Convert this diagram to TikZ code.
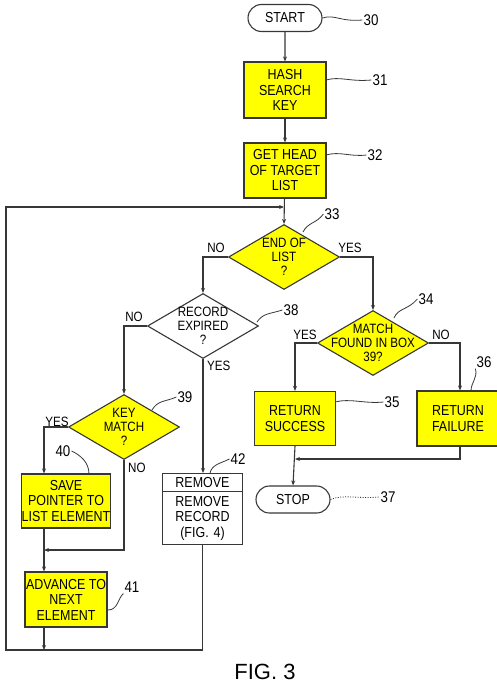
\documentclass[tikz,border=0pt]{standalone}
\usepackage{fontspec}
\setmainfont{Liberation Sans}
\newfontfamily\cond[FakeStretch=0.86]{Liberation Sans}
\usetikzlibrary{shapes.geometric,shapes.misc,shapes.multipart,arrows.meta}
\definecolor{lc}{RGB}{55,55,55}
\definecolor{yel}{RGB}{255,255,0}
\begin{document}
\begin{tikzpicture}[x=1pt,y=-1pt,
  ln/.style={draw=lc, line width=1.1pt},
  arr/.style={ln, -{Stealth[length=5pt,width=4pt]}},
  bfont/.style={font=\cond\fontsize{14.5}{15.5}\selectfont},
  pbox/.style={draw=lc, fill=yel, line width=1.2pt, minimum width=82pt, align=center, inner sep=0pt, bfont},
  dia/.style={diamond, draw=lc, fill=yel, line width=1.1pt, minimum width=111pt, minimum height=65pt, inner sep=0pt},
  dtxt/.style={align=center, inner sep=0pt, font=\cond\fontsize{13.5}{14}\selectfont},
  term/.style={rounded rectangle, draw=lc, line width=1.1pt, minimum width=74pt, minimum height=27pt, inner sep=0pt, bfont},
  num/.style={inner sep=1pt, font=\cond\fontsize{15.5}{16}\selectfont},
  lead/.style={draw=lc, line width=0.8pt},
  lbl/.style={inner sep=1pt, font=\cond\fontsize{13.5}{14}\selectfont}]
\useasboundingbox (0,0) rectangle (497,688);

% nodes
\node[term] (start) at (285,18) {START};
\node[pbox, minimum height=56pt] (hash) at (285,90) {HASH\\SEARCH\\KEY};
\node[pbox, minimum height=55pt] (head) at (285,170.5) {GET HEAD\\OF TARGET\\LIST};
\node[dia, label={[dtxt]center:{END OF\\LIST\\?}}] (endl) at (284,257) {};
\node[dia, label={[dtxt]center:{MATCH\\FOUND IN BOX\\39?}}] (match) at (373,343) {};
\node[pbox, minimum width=81pt, minimum height=54pt] (succ) at (295,418.5) {RETURN\\SUCCESS};
\node[pbox, minimum width=82pt, minimum height=55pt] (fail) at (458,418.5) {RETURN\\FAILURE};
\node[term] (stop) at (293,499.5) {STOP};
\node[dia, fill=white, label={[dtxt]center:{RECORD\\EXPIRED\\?}}] (rec) at (203,326) {};
\node[dia, label={[dtxt]center:{KEY\\MATCH\\?}}] (key) at (124,427) {};
\node[pbox, minimum height=54pt] (save) at (66,501) {SAVE\\POINTER TO\\LIST ELEMENT};
\node[pbox, minimum height=55pt] (adv) at (66,599.5) {ADVANCE TO\\NEXT\\ELEMENT};
\node[rectangle split, rectangle split parts=2, draw=lc, line width=1.1pt, fill=white,
      text width=73pt, align=center, inner sep=3.5pt, bfont, anchor=north] (remove) at (202.5,473)
      {REMOVE\nodepart{two}REMOVE\\RECORD\\(FIG. 4)};

% coordinates
\coordinate (loopL) at (6,207);
\coordinate (loopJ) at (284,207);
\coordinate (botL) at (6,650);
\coordinate (advB) at (44,650);
\coordinate (merge) at (44,550);
\coordinate (succJ) at (295,459);

% connectors
\draw[arr] (start) -- (hash);
\draw[arr] (hash) -- (head);
\draw[arr] (head) -- (endl.north);
\draw[arr] (endl.east) -| (match.north);
\draw[arr] (endl.west) -| (rec.north);
\draw[arr] (match.west) -| (succ.north);
\draw[arr] (match.east) -| ([xshift=2pt]fail.north);
\draw[arr] (succ.south) -- (stop.north);
\draw[arr] ([xshift=2pt]fail.south) |- (succJ);
\draw[arr] (rec.west) -| (key.north);
\draw[arr] (rec.south) -- (rec.south |- remove.north);
\draw[arr] (key.west) -| (save.north -| merge);
\draw[arr] (key.south) |- (merge);
\draw[arr] (save.south -| merge) -- (adv.north -| merge);
\draw[arr] (adv.south -| merge) -- (advB);
\draw[arr] (remove.south) |- (botL) -- (loopL) -- (loopJ);

% branch labels
\node[lbl, anchor=south] (l1) at (216,254) {NO};
\node[lbl, anchor=south] (l2) at (350,254) {YES};
\node[lbl, anchor=south] (l3) at (305,341) {YES};
\node[lbl, anchor=south] (l4) at (441,341) {NO};
\node[lbl, anchor=south] (l5) at (134,323) {NO};
\node[lbl, anchor=north west] (l6) at (206,360) {YES};
\node[lbl, anchor=south] (l7) at (57,428) {YES};
\node[lbl, anchor=north west] (l8) at (127,462) {NO};

% reference numbers
\node[num] (n30) at (371,20) {30};
\node[num] (n31) at (380,80) {31};
\node[num] (n32) at (375,155) {32};
\node[num] (n33) at (332,214) {33};
\node[num] (n34) at (426,299) {34};
\node[num] (n35) at (392,402) {35};
\node[num] (n36) at (484,362) {36};
\node[num] (n37) at (388,497) {37};
\node[num] (n38) at (291,310) {38};
\node[num] (n39) at (185,397) {39};
\node[num] (n40) at (63,451) {40};
\node[num] (n41) at (132,587) {41};
\node[num] (n42) at (238,459) {42};

\draw[lead] (start.east) .. controls (335,14) and (340,22) .. (n30.west);
\draw[lead] (326,80) .. controls (340,76) and (350,82) .. (n31.west);
\draw[lead] (326,155) .. controls (340,151) and (350,157) .. (n32.west);
\draw[lead] (303,232) .. controls (308,222) and (316,224) .. (n33.west);
\draw[lead] (394,318) .. controls (398,308) and (408,310) .. (n34.west);
\draw[lead] (335,402) .. controls (350,398) and (365,404) .. (n35.west);
\draw[lead] (471,391) .. controls (471,382) and (478,378) .. (n36.south west);
\draw[lead, dash pattern=on 1pt off 1.5pt] (stop.east) .. controls (345,494) and (355,499) .. (n37.west);
\draw[lead] (257,322) .. controls (263,313) and (270,314) .. (n38.west);
\draw[lead] (152,410) .. controls (158,400) and (165,402) .. (n39.west);
\draw[lead] (89,474) .. controls (89,462) and (80,455) .. (n40.east);
\draw[lead] (108,610) .. controls (118,610) and (118,598) .. (n41.south west);
\draw[lead] (210,473) .. controls (212,464) and (222,463) .. (n42.west);

\node[font=\fontsize{22}{24}\selectfont] (fig) at (265,672) {FIG. 3};
\end{tikzpicture}
\end{document}
